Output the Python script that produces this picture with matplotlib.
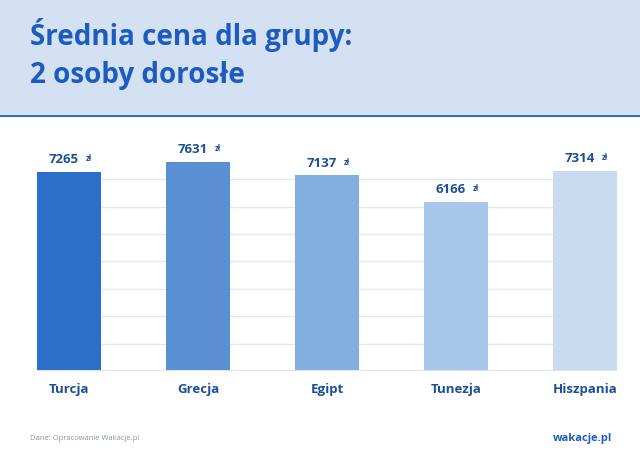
import matplotlib
matplotlib.use("Agg")
import matplotlib.pyplot as plt
from matplotlib.patches import Rectangle

categories = ["Turcja", "Grecja", "Egipt", "Tunezja", "Hiszpania"]
values = [7265, 7631, 7137, 6166, 7314]
colors = ["#2a6fca", "#5a8fd4", "#83aee0", "#a8c6ea", "#c9dbf1"]
title_lines = ["Średnia cena dla grupy:", "2 osoby dorosłe"]
source = "Dane: Opracowanie Wakacje.pl"

W, H = 640, 460
fig = plt.figure(figsize=(W/100, H/100), dpi=100)
fig.patch.set_facecolor("white")
plt.rcParams["font.family"] = "Open Sans"

# header band
fig.patches.append(Rectangle((0, 1-116/H), 1, 116/H, transform=fig.transFigure,
                             facecolor="#d3e1f2", edgecolor="none", zorder=0))
fig.patches.append(Rectangle((0, 1-118/H), 1, 2/H, transform=fig.transFigure,
                             facecolor="#2a6fca", edgecolor="none", zorder=1))
fig.text(30/W, 1-35/H, title_lines[0], fontsize=20, fontweight="bold", color="#1c5bbf", va="center")
fig.text(30/W, 1-75/H, title_lines[1], fontsize=20, fontweight="bold", color="#1c5bbf", va="center")

left, right, bottom, top = 37, 617, 372, 150
ax = fig.add_axes([left/W, 1-bottom/H, (right-left)/W, (bottom-top)/H])
ax.set_xlim(-0.248, 4.248)
ax.set_ylim(0, (bottom-top)/27.4*1000)
for g in range(1000, 8000, 1000):
    ax.axhline(g, color="#e1e8f2", lw=1, zorder=0)
ax.axhline(0, color="#dfe5ee", lw=1.5, zorder=3)
x = range(len(categories))
ax.bar(x, values, width=0.49, color=colors, zorder=2)
for i, v in enumerate(values):
    t = ax.annotate(f"{v}", (i, v), xytext=(-4, 5), textcoords="offset points",
                    ha="center", va="bottom", fontsize=9.5, fontweight="bold", color="#1c4f9c")
    ax.annotate("zł", (i, v), xytext=(14, 7), textcoords="offset points",
                ha="center", va="bottom", fontsize=5.5, fontweight="bold", color="#1c4f9c")
ax.set_xticks(list(x))
ax.set_xticklabels(categories, fontsize=9.5, fontweight="bold", color="#1c4f9c")
ax.tick_params(axis="x", length=0, pad=8)
ax.set_yticks([])
for s in ax.spines.values():
    s.set_visible(False)

fig.text(30/W, 1-438/H, source, fontsize=5.5, color="#8a94a6", va="center")
fig.text(612/W, 1-438/H, "wakacje.pl", fontsize=8, fontweight="bold", color="#1c5bbf", va="center", ha="right")

fig.savefig("out.png", dpi=100)
